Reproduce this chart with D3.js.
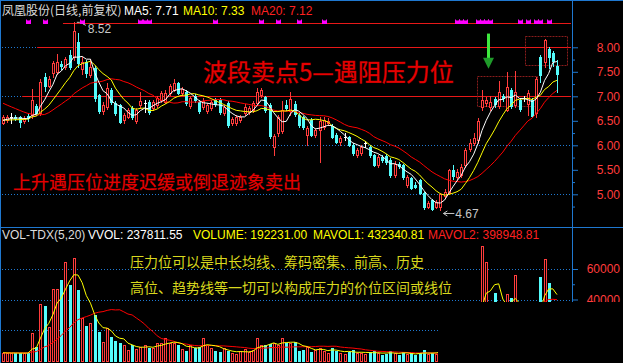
<!DOCTYPE html>
<html><head><meta charset="utf-8">
<script src="https://cdn.jsdelivr.net/npm/d3@7"></script>
<style>html,body{margin:0;padding:0;background:#000;overflow:hidden}svg{display:block}</style>
</head><body><svg id="c" width="623" height="363"></svg>
<script>
// ---------- DATA ----------
const opens  = [6.46,6.52,6.57,6.58,6.58,6.50,6.60,6.62,6.80,6.66, 7.40,7.22,7.47,7.50,7.66,7.60,7.84,7.80,8.10,7.55,
                7.70,7.44,7.58,7.02,6.70,6.78,7.13,6.86,6.82,6.52, 6.58,6.76,6.50,6.82,6.86,6.88,6.76,6.82,6.92,6.89,
                7.07,7.13,7.27,7.07,7.09,6.80,7.00,6.88,6.78,6.70, 6.76,6.92,6.92,6.66,6.86,6.46,6.46,6.52,6.66,6.68,
                6.72,6.86,7.03,6.98,6.82,5.97,6.25,6.30,6.82,6.70, 6.85,6.62,6.58,6.21,6.52,6.21,6.31,6.38,6.46,6.40,
                6.21,6.07,6.17,6.17,6.01,5.80,5.84,6.04,5.96,5.80, 5.60,5.76,5.78,5.70,5.40,5.62,5.60,5.19,5.33,5.20,
                5.29,5.02,4.74,4.88,4.74,4.74,4.97,5.02,5.50,5.36, 5.40,5.60,5.92,6.05,6.10,6.78,6.86,6.78,6.94,6.80,
                7.00,6.72,7.13,6.82,6.92,6.96,6.84,6.92,6.66,7.80, 7.70,7.96,7.88,7.62];
const highs  = [6.62,6.62,6.66,6.62,6.60,6.60,6.64,7.14,6.84,7.35, 7.47,7.42,7.72,7.86,7.72,7.80,7.95,8.52,8.30,7.80,
                7.75,7.76,7.62,7.05,6.88,7.27,7.17,6.90,6.84,6.66, 6.76,6.80,6.76,7.09,6.92,6.92,6.92,7.00,7.10,7.12,
                7.25,7.35,7.30,7.20,7.12,7.00,7.04,6.92,6.96,6.86, 6.92,6.96,6.96,6.82,6.90,6.58,6.62,6.62,6.84,6.80,
                6.90,7.17,7.17,7.00,6.86,6.24,6.62,6.90,6.92,7.08, 6.90,6.66,6.60,6.40,6.55,6.35,6.58,6.58,6.55,6.44,
                6.25,6.18,6.25,6.20,6.04,5.94,6.00,6.08,6.00,5.82, 5.80,5.80,5.82,5.74,5.68,5.66,5.62,5.40,5.36,5.26,
                5.32,5.04,4.86,4.90,4.88,5.02,5.10,5.52,5.60,5.52, 5.62,5.95,6.12,6.25,6.55,7.13,6.98,7.00,6.98,7.32,
                7.04,7.50,7.17,7.52,6.96,7.00,7.13,6.96,7.40,7.85, 8.16,8.00,7.92,7.74];
const lows   = [6.44,6.48,6.45,6.52,6.38,6.46,6.50,6.56,6.62,6.62, 7.10,7.18,7.40,7.45,7.55,7.55,7.56,7.74,7.60,7.45,
                7.40,7.40,6.90,6.65,6.64,6.75,6.84,6.62,6.45,6.45, 6.55,6.54,6.46,6.76,6.68,6.64,6.72,6.78,6.88,6.86,
                7.02,7.10,7.04,7.02,6.82,6.76,6.88,6.66,6.74,6.66, 6.72,6.80,6.64,6.62,6.38,6.42,6.42,6.48,6.62,6.64,
                6.68,6.82,6.98,6.68,6.15,5.80,6.20,6.26,6.72,6.62, 6.60,6.38,6.34,6.01,6.18,6.16,5.66,6.34,6.42,6.14,
                6.04,6.01,6.11,5.98,5.80,5.76,5.80,5.96,5.76,5.58, 5.56,5.66,5.62,5.36,5.35,5.54,5.32,5.15,5.10,5.12,
                5.00,4.70,4.72,4.68,4.72,4.67,4.92,5.00,5.32,5.30, 5.36,5.55,5.88,6.00,6.05,6.72,6.80,6.72,6.78,6.76,
                6.90,6.70,6.76,6.78,6.70,6.90,6.62,6.58,6.58,7.30, 7.60,7.58,7.62,7.09];
const closes = [6.58,6.58,6.57,6.55,6.48,6.56,6.55,6.92,6.66,7.30, 7.22,7.36,7.68,7.70,7.62,7.76,7.60,8.33,7.68,7.70,
                7.48,7.60,6.97,6.70,6.82,7.17,6.88,6.66,6.48,6.62, 6.72,6.58,6.72,6.90,6.86,6.68,6.88,6.96,7.07,7.07,
                7.21,7.27,7.07,7.15,6.86,6.96,6.92,6.70,6.90,6.82, 6.88,6.84,6.68,6.78,6.42,6.54,6.58,6.58,6.78,6.76,
                6.86,7.09,7.13,6.72,6.19,6.19,6.58,6.72,6.76,6.95, 6.64,6.42,6.38,6.35,6.21,6.31,6.50,6.52,6.50,6.17,
                6.07,6.15,6.17,6.01,5.84,5.90,5.96,6.04,5.80,5.60, 5.76,5.70,5.66,5.39,5.62,5.58,5.35,5.35,5.13,5.15,
                5.03,4.75,4.82,4.70,4.84,5.00,5.05,5.50,5.38,5.45, 5.55,5.90,6.05,6.15,6.50,6.92,6.92,6.88,6.84,7.08,
                6.96,7.19,6.80,7.09,6.74,6.96,7.07,6.60,7.35,7.43, 8.15,7.80,7.72,7.45];
const volumes = [5100,4700,4700,5100,4700,5100,4700,17800,9000,37000, 35900,22200,46900,46900,52800,64800,49500,67000,46200,27700,
                 22600,24400,29800,18500,12300,21100,15600,12800,11300,10200, 6900,10200,7300,9000,10200,8400,8400,11300,11300,14500,
                 11700,11300,10200,7500,6200,10100,8000,9000,14500,10200, 8400,6200,5800,8000,6200,4700,4100,6200,7500,5800,
                 6900,15000,10000,10200,10800,11700,10200,14500,11700,11700, 12000,6200,6900,9000,5800,6900,8000,6500,5000,8400,
                 6200,5000,4500,5800,6900,4700,5100,4000,5500,6200, 4700,3800,4200,6500,5200,3600,5400,4200,4800,3500,
                 5200,6800,4000,4700,4200,8000,9000,20000,15000,14000, 16000,20000,22000,24000,35000,75000,64400,30000,44000,38000,
                 25000,43600,40800,56000,22000,18000,28000,24000,38000,55000, 66500,51000,24400,19223];
// closes / volumes of the 19 sessions before the first visible one (seed the moving averages)
const prevCloses  = [7.35,7.30,7.25,7.20,7.22,7.15,7.18,7.10,7.12,7.13,6.60,6.55,6.50,6.48,6.52,6.45,6.50,6.48,6.52];
const prevVolumes = [5200,4800,5600,5000,4600,5400,5100,4900,5300,5000,4700,5200,5100,4800,5000,5300,4900,5100,5000];

const priceLabelTicks = [5.0,5.5,6.0,6.5,7.0,7.5,8.0];
const priceMinorTicks = [4.75,5.25,5.75,6.25,6.75,7.25,7.75];
const priceGrid = [5,6,7,8];
const volLabelTicks = [40000,60000];
const volMinorTicks = [50000];
const volGrid = [20000,40000,60000];
const signalIdx = [6,10,19,33,34,35,51,62,66,71,77,109,110,111,114,115,116,117,124,126,128,129,131];
const resistLevels = [8.5, 8.0, 7.0];
const resistStart  = [14.4, 8.2, 4.6];
const boxes = [{i0:113.7,i1:128.2,p0:6.79,p1:7.41},{i0:125.3,i1:135.4,p0:7.63,p1:8.23}];
const arrowAt = {i:116.5, top:8.28, tip:7.56};

// ---------- SCALES ----------
const svg = d3.select('#c');
const n = closes.length;
const x = d3.scaleLinear().domain([0,n-1]).range([3,557]);
const yP = d3.scaleLinear().domain([5,8]).range([194.3,47.3]);
const yV = d3.scaleLinear().domain([0,60000]).range([360.5,269]);
const BLUE='#1f78d0', UP='#ff3c3c', DN='#54fcfc';
const LAT='"Liberation Sans", Arial, sans-serif', CJK='"Noto Sans CJK SC", sans-serif';

svg.append('rect').attr('width',623).attr('height',363).attr('fill','#000');

function ma(arr, prev, k){
  const all = prev.concat(arr);
  return arr.map((_,i)=>{const j=i+prev.length; return d3.mean(all.slice(j-k+1,j+1));});
}
const ma5=ma(closes,prevCloses,5), ma10=ma(closes,prevCloses,10), ma20=ma(closes,prevCloses,20);
const mv1=ma(volumes,prevVolumes,5), mv2=ma(volumes,prevVolumes,20);

// ---------- GRID ----------
const grid = svg.append('g').attr('stroke',BLUE).attr('stroke-dasharray','1,2');
grid.selectAll('.pg').data(priceGrid).join('line')
  .attr('x1',2).attr('x2',572).attr('y1',d=>Math.round(yP(d))+0.5).attr('y2',d=>Math.round(yP(d))+0.5);
grid.selectAll('.vg').data(volGrid).join('line')
  .attr('x1',2).attr('x2',572).attr('y1',d=>Math.round(yV(d))+0.5).attr('y2',d=>Math.round(yV(d))+0.5);

// resistance lines
svg.append('g').selectAll('line').data(resistLevels).join('line')
  .attr('x1',(d,i)=>x(resistStart[i])).attr('x2',571)
  .attr('y1',d=>Math.round(yP(d))+0.5).attr('y2',d=>Math.round(yP(d))+0.5)
  .attr('stroke','#e81818').attr('stroke-width',1);

// dashed boxes
svg.append('g').selectAll('rect').data(boxes).join('rect')
  .attr('x',d=>Math.round(x(d.i0))+0.5).attr('y',d=>Math.round(yP(d.p1))+0.5)
  .attr('width',d=>Math.round(x(d.i1)-x(d.i0))).attr('height',d=>Math.round(yP(d.p0)-yP(d.p1)))
  .attr('fill','none').attr('stroke','#8a1c1c').attr('stroke-dasharray','2,1');

// ---------- CANDLES ----------
const cg = svg.append('g').attr('shape-rendering','crispEdges');
closes.forEach((c,i)=>{
  const o=opens[i], h=highs[i], l=lows[i];
  const cx=Math.round(x(i));
  const yt=Math.round(yP(Math.max(o,c))), yb=Math.round(yP(Math.min(o,c)));
  const yh=Math.round(yP(h)), yl=Math.round(yP(l));
  if(c>o){
    cg.append('line').attr('x1',cx+0.5).attr('x2',cx+0.5).attr('y1',yh).attr('y2',yt).attr('stroke',UP);
    cg.append('line').attr('x1',cx+0.5).attr('x2',cx+0.5).attr('y1',yb).attr('y2',yl+1).attr('stroke',UP);
    cg.append('rect').attr('x',cx-0.5).attr('y',yt+0.5).attr('width',2).attr('height',Math.max(1,yb-yt)).attr('fill','#000').attr('stroke',UP);
  } else if(c<o){
    cg.append('line').attr('x1',cx+0.5).attr('x2',cx+0.5).attr('y1',yh).attr('y2',yl+1).attr('stroke',DN);
    cg.append('rect').attr('x',cx-1).attr('y',yt).attr('width',3).attr('height',Math.max(1,yb-yt+1)).attr('fill',DN);
  } else {
    cg.append('line').attr('x1',cx+0.5).attr('x2',cx+0.5).attr('y1',yh).attr('y2',yl+1).attr('stroke','#fff');
    cg.append('rect').attr('x',cx-1).attr('y',yt).attr('width',3).attr('height',1).attr('fill','#fff');
  }
  // volume
  const vy=Math.round(yV(volumes[i])), v0=Math.round(yV(0));
  if(c>=o) cg.append('rect').attr('x',cx-0.5).attr('y',vy+0.5).attr('width',2).attr('height',Math.max(1,v0-vy)).attr('fill','#000').attr('stroke',UP);
  else cg.append('rect').attr('x',cx-1).attr('y',vy).attr('width',3).attr('height',v0-vy+1).attr('fill',DN);
});

// ---------- MA LINES ----------
const lp = d3.line().x((d,i)=>x(i)).y(d=>yP(d));
const lv = d3.line().x((d,i)=>x(i)).y(d=>yV(d));
svg.append('path').attr('d',lp(ma20)).attr('fill','none').attr('stroke','#ff0000');
svg.append('path').attr('d',lp(ma10)).attr('fill','none').attr('stroke','#ffff00');
svg.append('path').attr('d',lp(ma5)).attr('fill','none').attr('stroke','#ffffff');
svg.append('path').attr('d',lv(mv2)).attr('fill','none').attr('stroke','#ff0000');
svg.append('path').attr('d',lv(mv1)).attr('fill','none').attr('stroke','#ffff00');

// signal markers on the top line
svg.append('g').selectAll('path').data(signalIdx).join('path')
  .attr('transform',d=>`translate(${Math.round(x(d))+0.5},21.5)`)
  .attr('d','M-2.5,-2.5 L-1,-1 L1,-1 L2.5,-2.5 L2.5,2.5 L-2.5,2.5 Z')
  .attr('fill','#ff00ff');

// high / low annotations
const iH = d3.maxIndex(highs), iL = d3.minIndex(lows);
svg.append('path').attr('d',`M${x(iH)+3},${yP(highs[iH])+0.5} l3,0 M${x(iH)+9},${yP(highs[iH])+2} l3,1.5`)
  .attr('stroke','#c8c8c8').attr('fill','none');
svg.append('text').attr('x',x(iH)+14).attr('y',yP(highs[iH])+11).text(d3.format('.2f')(highs[iH]))
  .attr('fill','#c8c8c8').attr('font-family',LAT).attr('font-size',12);
const lx=x(iL)+3, ly=yP(lows[iL])+3;
svg.append('path').attr('d',`M${lx},${ly} l11,0 M${lx},${ly} l4,-2.5 M${lx},${ly} l4,2.5`).attr('stroke','#c8c8c8').attr('fill','none');
svg.append('text').attr('x',lx+12).attr('y',ly+4.5).text(d3.format('.2f')(lows[iL]))
  .attr('fill','#c8c8c8').attr('font-family',LAT).attr('font-size',12);

// green arrow
const ax=Math.round(x(arrowAt.i));
svg.append('rect').attr('x',ax-1).attr('y',yP(arrowAt.top)).attr('width',3).attr('height',yP(arrowAt.tip)-yP(arrowAt.top)-9).attr('fill','#3ee83e');
svg.append('path').attr('d',`M${ax-5},${yP(arrowAt.tip)-11} L${ax+6},${yP(arrowAt.tip)-11} L${ax+0.5},${yP(arrowAt.tip)} Z`).attr('fill','#1f9a2a');

// ---------- MASK (lower right of volume panel is blank in the picture) ----------
svg.append('rect').attr('x',438).attr('y',302).attr('width',185).attr('height',61).attr('fill','#000');

// ---------- BORDERS & AXES ----------
const bd = svg.append('g').attr('stroke',BLUE).attr('shape-rendering','crispEdges');
bd.append('line').attr('x1',0.5).attr('x2',0.5).attr('y1',0).attr('y2',363);
bd.append('line').attr('x1',0).attr('x2',623).attr('y1',0.5).attr('y2',0.5);
bd.append('line').attr('x1',572.5).attr('x2',572.5).attr('y1',0).attr('y2',302);
bd.append('line').attr('x1',0).attr('x2',623).attr('y1',227.5).attr('y2',227.5);

function styleAxis(g){
  g.select('.domain').remove();
  g.selectAll('line').attr('stroke',BLUE);
  g.selectAll('text').attr('fill',UP).attr('x',48).attr('text-anchor','end')
   .attr('font-family',LAT).attr('font-size',12);
}
const aP = svg.append('g').attr('transform','translate(572,0)');
aP.call(d3.axisRight(yP).tickValues(priceLabelTicks).tickSize(6).tickFormat(d3.format('.2f')));
styleAxis(aP);
const aPm = svg.append('g').attr('transform','translate(572,0)');
aPm.call(d3.axisRight(yP).tickValues(priceMinorTicks).tickSize(3).tickFormat(''));
styleAxis(aPm);
const aV = svg.append('g').attr('transform','translate(572,0)');
aV.call(d3.axisRight(yV).tickValues(volLabelTicks).tickSize(6).tickFormat(d3.format('d')));
styleAxis(aV);
const aVm = svg.append('g').attr('transform','translate(572,0)');
aVm.call(d3.axisRight(yV).tickValues(volMinorTicks).tickSize(3).tickFormat(''));
styleAxis(aVm);
svg.append('rect').attr('x',573).attr('y',302).attr('width',50).attr('height',61).attr('fill','#000');

// ---------- TEXTS ----------
function t(xp,yp,s,fill,size,fam){return svg.append('text').attr('x',xp).attr('y',yp).text(s).attr('fill',fill).attr('font-size',size).attr('font-family',fam);}
t(2,15,'凤凰股份(日线,前复权)','#dcdcdc',12,CJK);
t(124,15,'MA5: '+d3.format('.2f')(ma5[n-1]),'#ffffff',12,LAT);
t(183,15,'MA10: '+d3.format('.2f')(ma10[n-1]),'#ffff00',12,LAT);
t(251,15,'MA20: '+d3.format('.2f')(ma20[n-1]),'#ff2020',12,LAT);

t(2,239,'VOL-TDX(5,20)','#dcdcdc',12,LAT);
t(88,239,'VVOL: 237811.55','#ffffff',12,LAT);
t(193,239,'VOLUME: 192231.00','#ffff00',12,LAT);
t(313,239,'MAVOL1: 432340.81','#ffff00',12,LAT);
t(428,239,'MAVOL2: 398948.81','#ff2020',12,LAT);

t(203,81,'波段卖点5—遇阻压力位','#e60000',24,CJK).attr('stroke','#5a0000').attr('stroke-width',0.8).attr('paint-order','stroke');
t(13,189,'上升遇压位进度迟缓或倒退迹象卖出','#e60000',18,CJK).attr('stroke','#5a0000').attr('stroke-width',0.6).attr('paint-order','stroke');
t(130,267,'压力位可以是中长均线、筹码密集、前高、历史','#d8d81e',14,CJK);
t(130,293,'高位、趋势线等一切可以构成压力的价位区间或线位','#d8d81e',14,CJK);
</script></body></html>
